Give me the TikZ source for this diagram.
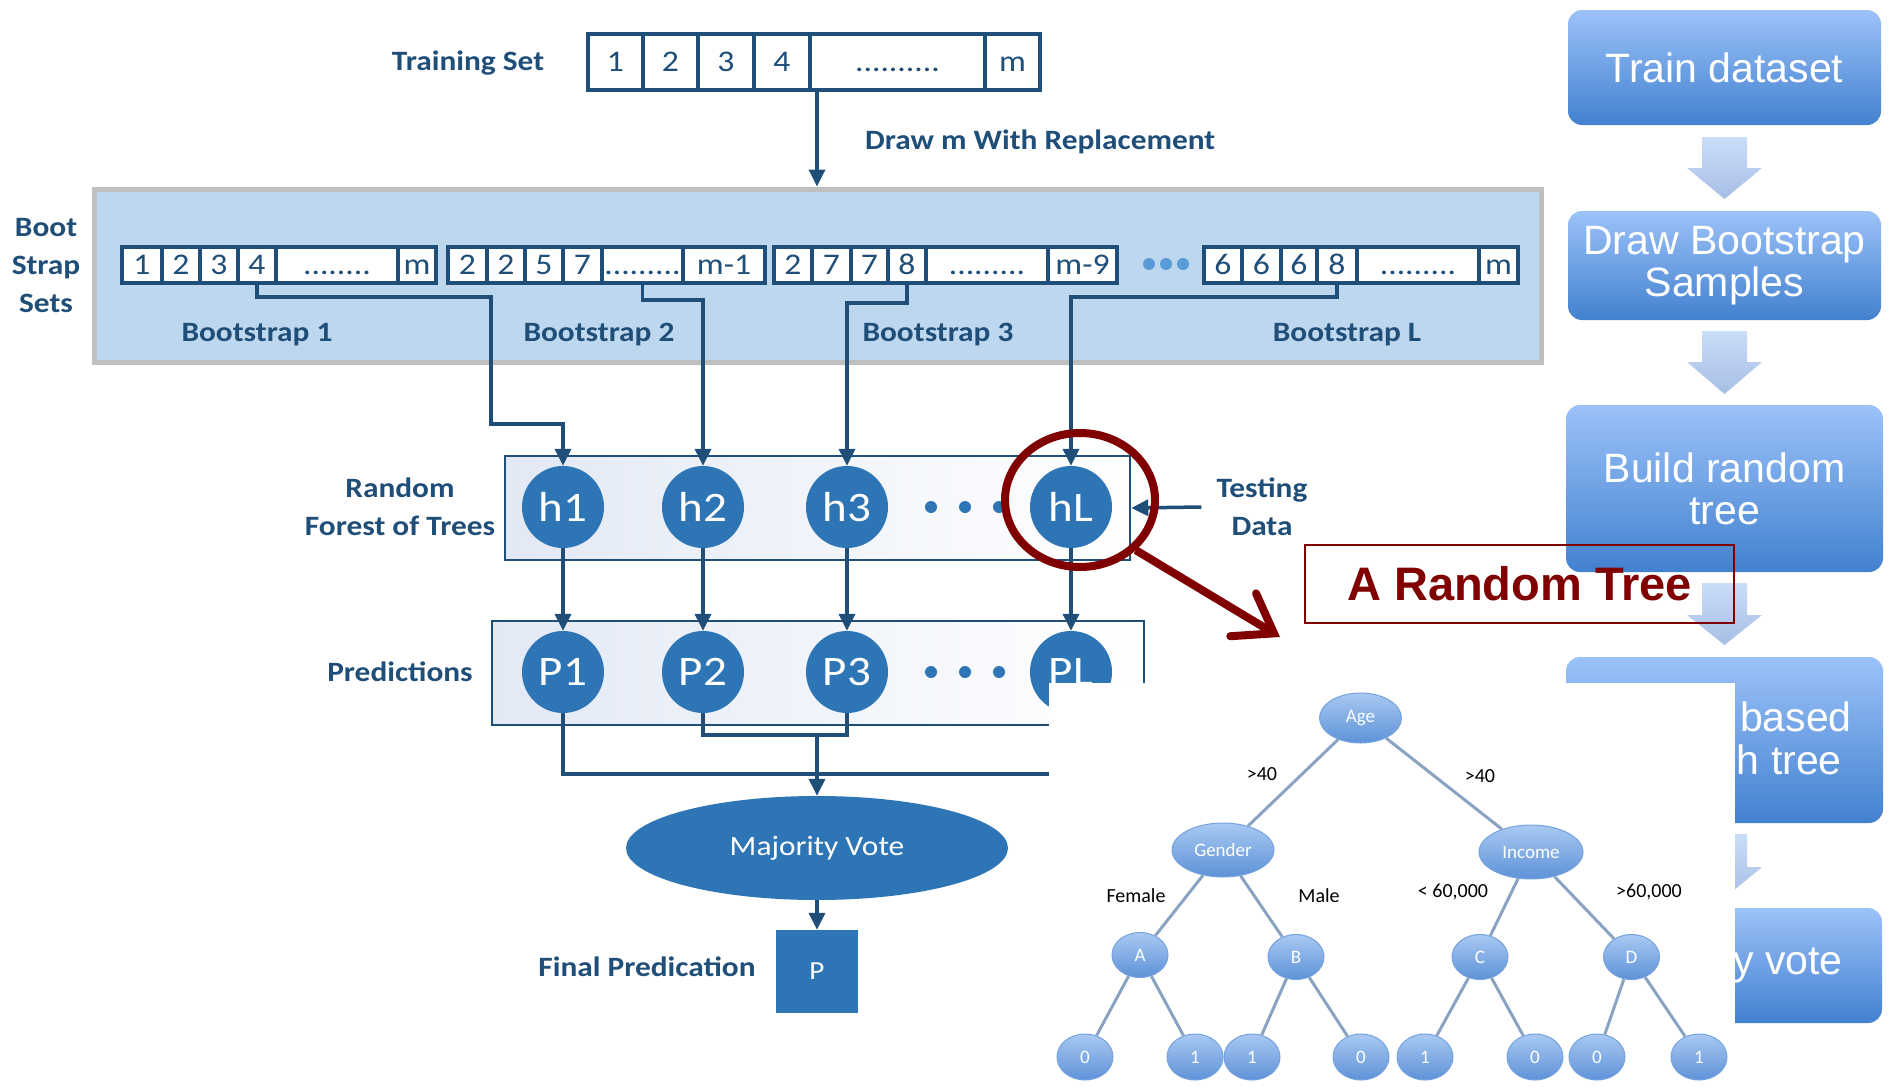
\documentclass[tikz,border=0pt]{standalone}
\usepackage{fontspec}
\setmainfont{Carlito}
\newfontfamily\calib[FakeStretch=1.12]{Carlito}
\newfontfamily\arialf{Liberation Sans}
\usetikzlibrary{arrows.meta,positioning,shapes.geometric}
\definecolor{navy}{HTML}{1F4E79}
\definecolor{hblue}{HTML}{2E75B6}
\definecolor{panelblue}{HTML}{BDD7EE}
\definecolor{panelgrey}{HTML}{BFBFBF}
\definecolor{dotblue}{HTML}{5B9BD5}
\definecolor{darkred}{HTML}{800000}
\definecolor{flowtop}{HTML}{9CC2F9}
\definecolor{flowbot}{HTML}{4281CF}
\definecolor{chevtop}{HTML}{CADDF9}
\definecolor{chevbot}{HTML}{A7BEE5}
\definecolor{treetop}{HTML}{A8C9F2}
\definecolor{treebot}{HTML}{5E92D8}
\definecolor{treeline}{HTML}{8AA3C2}
\definecolor{rowtint}{HTML}{E2E9F5}

\begin{document}
\begin{tikzpicture}[x=1pt, y=-1pt,
  lbl/.style={font=\calib\bfseries\fontsize{28}{38}\selectfont, text=navy, align=center, inner sep=3},
  cell/.style={draw=navy, line width=4, fill=white, inner sep=0, outer sep=0, minimum height=36, text height=19, text depth=0, font=\calib\fontsize{30}{34}\selectfont, text=navy},
  tcell/.style={cell, minimum height=56},
  panel/.style={draw=panelgrey, line width=5, fill=panelblue, inner sep=0},
  row/.style={draw=navy, line width=2.5, left color=rowtint, right color=white, inner sep=0},
  model/.style={circle, fill=hblue, minimum size=82, inner sep=0, text=white, font=\calib\fontsize{42}{44}\selectfont},
  pdot/.style={circle, fill=#1, minimum size=12, inner sep=0},
  wire/.style={draw=navy, line width=3.5},
  arr/.style={wire, -{Triangle[length=17pt, width=16pt]}},
  flowbox/.style={rounded corners=14, top color=flowtop, bottom color=flowbot, text=white, font=\arialf\fontsize{41}{42}\selectfont, align=center, inner sep=0},
  flowtxt/.style={text=white, font=\arialf\fontsize{41}{42}\selectfont, inner sep=0},
  tnode/.style={ellipse, top color=treetop, bottom color=treebot, draw=treebot!85!white, line width=1, text=white, font=\fontsize{19}{20}\selectfont, inner sep=0},
  leaf/.style={tnode, minimum width=56, minimum height=46},
  tedge/.style={draw=treeline, line width=3},
  elbl/.style={font=\fontsize{20}{22}\selectfont, text=black, inner sep=0}
]
  \useasboundingbox (0,0) rectangle (1891,1087);
  \fill[white] (0,0) rectangle (1891,1087);

  % Training set
  \node[lbl] (trainlbl) at (468,63) {Training Set};
  \node[tcell, minimum width=55] (t1) at (615.5,62) {1};
  \node[tcell, minimum width=55, right=0pt of t1] (t2) {2};
  \node[tcell, minimum width=56, right=0pt of t2] (t3) {3};
  \node[tcell, minimum width=56, right=0pt of t3] (t4) {4};
  \node[tcell, minimum width=175, right=0pt of t4] (tdots) {..........};
  \node[tcell, minimum width=55, right=0pt of tdots] (tm) {m};
  \node[lbl, anchor=west] (drawlbl) at (862,142) {Draw m With Replacement};

  % Bootstrap sets
  \node[panel, minimum width=1447, minimum height=173] (bootpanel) at (817.5,275.5) {};
  \draw[arr] ([xshift=7pt]tdots.south west) -- ([xshift=7pt]tdots.south west |- bootpanel.north);
  \node[lbl] (bootlbl) at (46,266) {Boot\\Strap\\Sets};

  \node[cell, minimum width=40] (b1c1) at (142,265) {1};
  \node[cell, minimum width=38, right=0pt of b1c1] (b1c2) {2};
  \node[cell, minimum width=38, right=0pt of b1c2] (b1c3) {3};
  \node[cell, minimum width=38, right=0pt of b1c3] (b1c4) {4};
  \node[cell, minimum width=122, right=0pt of b1c4] (b1dots) {........};
  \node[cell, minimum width=38, right=0pt of b1dots] (b1m) {m};

  \node[cell, minimum width=39] (b2c1) at (467.5,265) {2};
  \node[cell, minimum width=38, right=0pt of b2c1] (b2c2) {2};
  \node[cell, minimum width=38, right=0pt of b2c2] (b2c3) {5};
  \node[cell, minimum width=39, right=0pt of b2c3] (b2c4) {7};
  \node[cell, minimum width=81, right=0pt of b2c4] (b2dots) {.........};
  \node[cell, minimum width=82, right=0pt of b2dots] (b2m) {m-1};

  \node[cell, minimum width=38] (b3c1) at (793,265) {2};
  \node[cell, minimum width=39, right=0pt of b3c1] (b3c2) {7};
  \node[cell, minimum width=37, right=0pt of b3c2] (b3c3) {7};
  \node[cell, minimum width=38, right=0pt of b3c3] (b3c4) {8};
  \node[cell, minimum width=122, right=0pt of b3c4] (b3dots) {.........};
  \node[cell, minimum width=69, right=0pt of b3dots] (b3m) {m-9};

  \node[pdot=dotblue] (pd1) at (1149,264) {};
  \node[pdot=dotblue] (pd2) at (1166,264) {};
  \node[pdot=dotblue] (pd3) at (1183,264) {};

  \node[cell, minimum width=38] (b4c1) at (1223,265) {6};
  \node[cell, minimum width=39, right=0pt of b4c1] (b4c2) {6};
  \node[cell, minimum width=36, right=0pt of b4c2] (b4c3) {6};
  \node[cell, minimum width=40, right=0pt of b4c3] (b4c4) {8};
  \node[cell, minimum width=122, right=0pt of b4c4] (b4dots) {.........};
  \node[cell, minimum width=39, right=0pt of b4dots] (b4m) {m};

  \node[lbl] (boot1) at (257,335) {Bootstrap 1};
  \node[lbl] (boot2) at (599,335) {Bootstrap 2};
  \node[lbl] (boot3) at (938,335) {Bootstrap 3};
  \node[lbl] (bootL) at (1347,335) {Bootstrap L};

  % Random forest
  \node[row, minimum width=625, minimum height=104] (forestbox) at (817.5,508) {};
  \node[lbl] (forestlbl) at (400,507) {Random\\Forest of Trees};
  \node[model] (h1) at (563,507) {h1};
  \node[model] (h2) at (703,507) {h2};
  \node[model] (h3) at (847,507) {h3};
  \node[model] (hl) at (1071,507) {hL};
  \node[pdot=hblue] (hd1) at (931,507) {};
  \node[pdot=hblue] (hd2) at (965,507) {};
  \node[pdot=hblue] (hd3) at (999,507) {};
  \node[lbl] (testlbl) at (1262,507) {Testing\\Data};
  \draw[arr] ([xshift=-12pt]testlbl.west) -- (forestbox.east);

  % Predictions
  \node[row, minimum width=652, minimum height=104] (predbox) at (818,673) {};
  \node[lbl] (predlbl) at (400,672) {Predictions};
  \node[model] (p1) at (563,672) {P1};
  \node[model] (p2) at (703,672) {P2};
  \node[model] (p3) at (847,672) {P3};
  \node[model] (pl) at (1071,672) {PL};
  \node[pdot=hblue] (pdd1) at (931,672) {};
  \node[pdot=hblue] (pdd2) at (965,672) {};
  \node[pdot=hblue] (pdd3) at (999,672) {};

  % Bootstrap to trees
  \draw[arr] (b1c4.south) |- (491,297) |- (h1.north |- 0,424) -- (h1.north);
  \draw[arr] (b2dots.south) |- (h2.north |- 0,300) -- (h2.north);
  \draw[arr] (b3c4.south) |- (h3.north |- 0,303) -- (h3.north);
  \draw[arr] (b4c4.south) |- (hl.north |- 0,297) -- (hl.north);

  % Trees to predictions
  \draw[arr] (h1) -- (p1);
  \draw[arr] (h2) -- (p2);
  \draw[arr] (h3) -- (p3);
  \draw[arr] (hl) -- (pl);

  % Vote
  \node[ellipse, fill=hblue, minimum width=382, minimum height=104, inner sep=0, text=white, font=\calib\fontsize{28}{30}\selectfont] (vote) at (817,848) {Majority Vote};
  \coordinate (pmid) at (817,735);
  \draw[wire] (p1.south) |- (pl.south |- 0,774) -- (pl.south);
  \draw[wire] (p2.south) |- (p3.south |- pmid) -- (p3.south);
  \draw[arr] (pmid) -- (vote.north);
  \node[fill=hblue, minimum width=82, minimum height=83, inner sep=0, text=white, font=\calib\fontsize{26}{28}\selectfont] (final) at (817,971.5) {P};
  \draw[arr] (vote.south) -- (final.north);
  \node[lbl] (finallbl) at (647,967) {Final Predication};

  % Flow chart
  \node[flowbox, minimum width=313, minimum height=115] (flow1) at (1724.5,67.5) {Train dataset};
  \node[flowbox, minimum width=313, minimum height=109] (flow2) at (1724.5,265.5) {Draw Bootstrap\\Samples};
  \node[flowbox, minimum width=317, minimum height=167] (flow3) at (1724.5,488.5) {Build random\\tree};
  \node[flowbox, minimum width=317, minimum height=166] (flow4) at (1724.5,740) {};
  \node[flowbox, minimum width=316, minimum height=115] (flow5) at (1724,965.5) {};
  \node[flowtxt, anchor=east] (frag1) at (1852,717) {based};
  \node[flowtxt, anchor=east] (frag2) at (1842,760) {h tree};
  \node[flowtxt, anchor=east] (frag3) at (1843,965) {y vote};
  \shade[top color=chevtop, bottom color=chevbot] (1702,137) -- (1747,137) -- (1747,168) -- (1762,168) -- (1724.5,199) -- (1687,168) -- (1702,168) -- cycle;
  \shade[top color=chevtop, bottom color=chevbot] (1702,331) -- (1747,331) -- (1747,362) -- (1762,362) -- (1724.5,394) -- (1687,362) -- (1702,362) -- cycle;
  \shade[top color=chevtop, bottom color=chevbot] (1702,583) -- (1747,583) -- (1747,615) -- (1762,615) -- (1724.5,645) -- (1687,615) -- (1702,615) -- cycle;
  \shade[top color=chevtop, bottom color=chevbot] (1702,834) -- (1747,834) -- (1747,867) -- (1762,867) -- (1724.5,898) -- (1687,867) -- (1702,867) -- cycle;

  % Tree picture
  \fill[white] (1049,683) rectangle (1735,1087);
  \node[tnode, minimum width=82, minimum height=50] (age) at (1360.5,718) {Age};
  \node[tnode, minimum width=102, minimum height=54] (gender) at (1223,850) {Gender};
  \node[tnode, minimum width=104, minimum height=54] (income) at (1531,852) {Income};
  \node[tnode, minimum width=56, minimum height=45] (na) at (1140,955) {A};
  \node[tnode, minimum width=56, minimum height=45] (nb) at (1296,957) {B};
  \node[tnode, minimum width=56, minimum height=45] (nc) at (1480,957) {C};
  \node[tnode, minimum width=56, minimum height=45] (nd) at (1631.5,957) {D};
  \node[leaf] (l1) at (1085,1057) {0};
  \node[leaf] (l2) at (1195,1057) {1};
  \node[leaf] (l3) at (1252,1057) {1};
  \node[leaf] (l4) at (1361,1057) {0};
  \node[leaf] (l5) at (1425,1057) {1};
  \node[leaf] (l6) at (1535,1057) {0};
  \node[leaf] (l7) at (1597,1057) {0};
  \node[leaf] (l8) at (1699,1057) {1};
  \draw[tedge] (age) -- (gender);
  \draw[tedge] (age) -- (income);
  \draw[tedge] (gender) -- (na);
  \draw[tedge] (gender) -- (nb);
  \draw[tedge] (income) -- (nc);
  \draw[tedge] (income) -- (nd);
  \draw[tedge] (na) -- (l1);
  \draw[tedge] (na) -- (l2);
  \draw[tedge] (nb) -- (l3);
  \draw[tedge] (nb) -- (l4);
  \draw[tedge] (nc) -- (l5);
  \draw[tedge] (nc) -- (l6);
  \draw[tedge] (nd) -- (l7);
  \draw[tedge] (nd) -- (l8);
  \node[elbl] (e1) at (1262,774) {>40};
  \node[elbl] (e2) at (1480,776) {>40};
  \node[elbl] (e3) at (1136,896) {Female};
  \node[elbl] (e4) at (1319,896) {Male};
  \node[elbl] (e5) at (1453,892) {< 60,000};
  \node[elbl] (e6) at (1649,892) {>60,000};

  % Zoom on hL
  \node[ellipse, draw=darkred, line width=8, minimum width=150, minimum height=134, inner sep=0] (zoomring) at (1080,500) {};
  \coordinate (treetip) at (1280,637);
  \draw[darkred, line width=8, -{Straight Barb[length=36pt, width=50pt, line cap=round]}] (zoomring.south east) -- (treetip);
  \node[draw=darkred, line width=2, minimum width=429, minimum height=78, inner sep=0, text=darkred, font=\arialf\bfseries\fontsize{47}{50}\selectfont] (treetitle) at (1519.5,584) {A Random Tree};
\end{tikzpicture}
\end{document}
